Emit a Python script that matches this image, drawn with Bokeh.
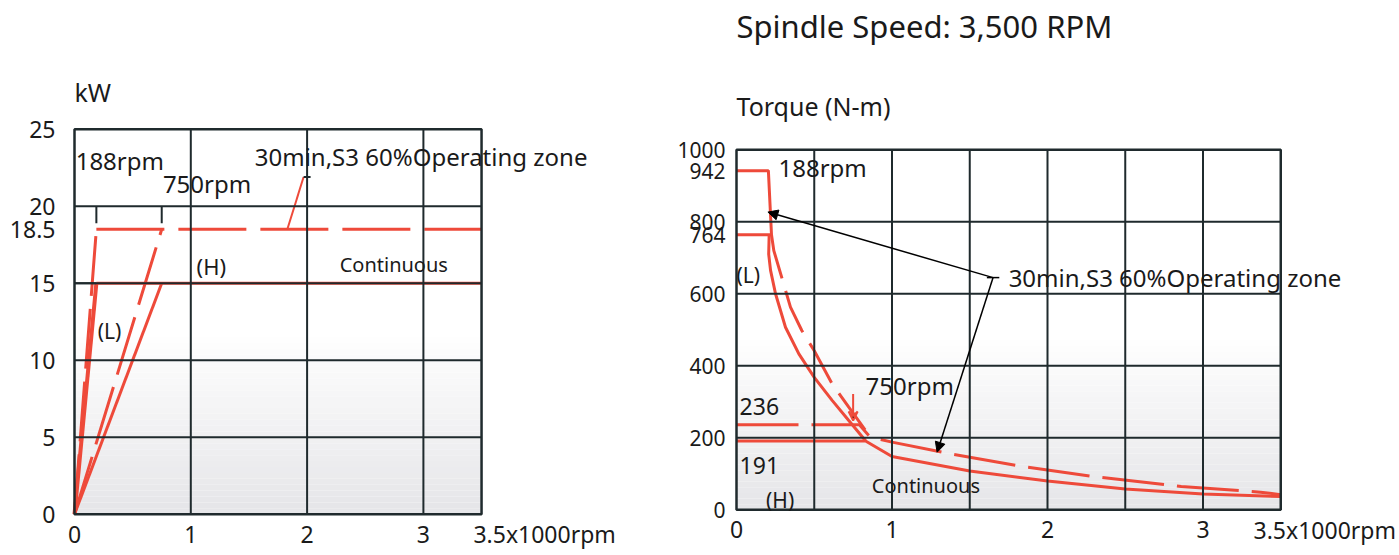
from bokeh.plotting import figure
from bokeh.layouts import row
from bokeh.models import FixedTicker, Label, Arrow, NormalHead, VeeHead, Range1d
from bokeh.core.properties import value
from bokeh.embed import file_html
from bokeh.resources import INLINE

FONT = "Noto Sans"
RED = "#ee4a3a"
GRID = "#1f2a2d"
TXT = "#1a1a1a"
FIG_H = 555

# ---------------- Data: power chart (kW vs x1000 rpm) ----------------
p_x_ticks = [0, 1, 2, 3]
p_x_labels = ["0", "1", "2", "3"]
x_max = 3.5
x_end_label = "3.5x1000rpm"
p_y_ticks = [0, 5, 10, 15, 18.5, 20, 25]
p_y_labels = ["0", "5", "10", "15", "18.5", "20", "25"]
p_y_max = 25
p_x_grid = [1, 2, 3]
p_y_grid = [5, 10, 15, 20]

speed_L = 0.188   # 188 rpm
speed_H = 0.75    # 750 rpm
kw_cont = 15.0
kw_s3 = 18.5

cont_L_x = [0, speed_L]
cont_L_y = [0, kw_cont]
cont_H_x = [0, speed_H]
cont_H_y = [0, kw_cont]
cont_flat_x = [speed_L, x_max]
cont_flat_y = [kw_cont, kw_cont]
s3_L_x = [0, speed_L]
s3_L_y = [0, kw_s3]
s3_H_x = [0, speed_H]
s3_H_y = [0, kw_s3]
s3_flat_x = [speed_L, x_max]
s3_flat_y = [kw_s3, kw_s3]

# ---------------- Data: torque chart (N-m vs x1000 rpm) ----------------
t_y_ticks = [0, 200, 400, 600, 764, 800, 942, 1000]
t_y_labels = ["0", "200", "400", "600", "764", "800", "942", "1000"]
t_y_max = 1000
t_inner_ticks = [236, 191]
t_x_grid = [0.5, 1, 1.5, 2, 2.5, 3]
t_y_grid = [200, 400, 600, 800]

t_box_x = [0, 0.205, 0.225, 0]
t_box_y = [942, 942, 764, 764]
t_cont_L_x = [0.21, 0.207, 0.219, 0.251, 0.315, 0.401, 0.50, 0.615, 0.722, 0.83]
t_cont_L_y = [764, 710, 665, 600, 507, 433, 368, 304, 248, 192]
t_cont_H_x = [0, 0.83, 1.0, 1.5, 2.0, 2.5, 3.0, 3.5]
t_cont_H_y = [191, 191, 148, 108, 80, 58, 44, 37]
t_s3_L_x = [0.225, 0.24, 0.347, 0.42, 0.50, 0.615, 0.722, 0.83]
t_s3_L_y = [764, 720, 563, 498, 442, 350, 285, 220]
t_s3_H_x = [0, 0.79, 0.86, 1.0, 1.38, 1.8, 2.32, 2.86, 3.37, 3.5]
t_s3_H_y = [236, 236, 202, 188, 155, 123, 91, 65, 49, 42]


def make_fig(width, border_left, pad_left, x_px, y_px, y_zero_px, y_std, ticks, labels, ysize):
    # frame spans the canvas right of the y axis; ranges follow the pixel scale
    frame_w = width - border_left
    x0 = -pad_left / x_px
    x1 = (frame_w - pad_left) / x_px
    top_y = y_zero_px / y_px
    bot_y = (y_zero_px - FIG_H) / y_px
    p = figure(width=width, height=FIG_H, output_backend="svg", toolbar_location=None,
               x_range=Range1d(x0, x1), y_range=Range1d(bot_y, top_y),
               x_axis_location=None, min_border_left=border_left, min_border_right=0,
               min_border_top=0, min_border_bottom=0)
    p.outline_line_color = None
    p.grid.visible = False
    ax = p.yaxis[0]
    ax.ticker = FixedTicker(ticks=ticks)
    ax.major_label_overrides = {k: v for k, v in zip(ticks, labels)}
    ax.axis_line_color = None
    ax.major_tick_line_color = None
    ax.minor_tick_line_color = None
    ax.major_tick_out = 0
    ax.major_tick_in = 0
    ax.minor_tick_out = 0
    ax.major_label_text_font = FONT
    ax.major_label_text_font_size = ysize
    ax.major_label_text_color = TXT
    ax.major_label_standoff = y_std
    return p


def gradient(p, x1, y1, n=30):
    bottoms, tops, cols = [], [], []
    for i in range(n):
        f = i / n
        bottoms.append(y1 * f)
        tops.append(y1 * (i + 1) / n)
        c = int(230 + (255 - 230) * f)
        c2 = int(233 + (255 - 233) * f)
        cols.append("#%02x%02x%02x" % (c, c, c2))
    p.quad(left=0, right=x1, bottom=bottoms, top=tops, fill_color=cols, line_color=None)


def frame_grid(p, xg, yg, xmax, ymax):
    p.segment(x0=xg, y0=[0] * len(xg), x1=xg, y1=[ymax] * len(xg),
              line_color=GRID, line_width=2)
    p.segment(x0=[0] * len(yg), y0=yg, x1=[xmax] * len(yg), y1=yg,
              line_color=GRID, line_width=2)
    p.quad(left=0, right=xmax, bottom=0, top=ymax, fill_color=None,
           line_color=GRID, line_width=2.5)


def xlabels(p, y):
    p.text(x=p_x_ticks, y=[y] * len(p_x_ticks), text=p_x_labels, text_font=value(FONT),
           text_font_size="23px", text_color=TXT, text_align="center",
           text_baseline="middle")


def lab(p, text, x, y, size="23px", align="left"):
    p.add_layout(Label(x=x, y=y, text=text, text_font=FONT, text_font_size=size,
                       text_color=TXT, text_baseline="middle", text_align=align))


# ---------------- Left figure (power) ----------------
p1 = make_fig(664, 62, 12, 116.3, 15.4, 513.7, 7, p_y_ticks, p_y_labels, "23px")
gradient(p1, x_max, 11.5)

p1.line(cont_flat_x, cont_flat_y, line_color=RED, line_width=3)
p1.line(cont_L_x, cont_L_y, line_color=RED, line_width=4)
p1.line(cont_H_x, cont_H_y, line_color=RED, line_width=3)
p1.line(s3_L_x, s3_L_y, line_color=RED, line_width=3, line_dash="60 13")
p1.line(s3_H_x, s3_H_y, line_color=RED, line_width=3, line_dash="60 13")
p1.line(s3_flat_x, s3_flat_y, line_color=RED, line_width=3, line_dash="68 14")
p1.line([1.83, 1.97], [kw_s3, 21.9], line_color=RED, line_width=2)

frame_grid(p1, p_x_grid, p_y_grid, x_max, p_y_max)
p1.line([0, speed_L], [kw_cont, kw_cont], line_color=GRID, line_width=2)
for sx in (speed_L, speed_H):
    p1.line([sx, sx], [18.9, 20], line_color=GRID, line_width=2)
p1.line([1.97, 2.03], [21.9, 21.9], line_color=GRID, line_width=2)

xlabels(p1, -1.29)
lab(p1, x_end_label, 3.43, -1.29)
lab(p1, "kW", 0.0, 27.4, "25px")
lab(p1, "188rpm", 0.01, 23.0, "24px")
lab(p1, "750rpm", 0.76, 21.5, "24px")
lab(p1, "30min,S3 60%Operating zone", 1.55, 23.2, "24px")
lab(p1, "(H)", 1.05, 16.1, "22px")
lab(p1, "Continuous", 2.28, 16.2, "20px")
lab(p1, "(L)", 0.2, 11.9, "21px")

# ---------------- Right figure (torque) ----------------
p2 = make_fig(735, 64, 8, 155.5, 0.36, 509.3, 3, t_y_ticks, t_y_labels, "21px")
gradient(p2, x_max, 470)

p2.line(t_box_x, t_box_y, line_color=RED, line_width=3)
p2.line(t_cont_L_x, t_cont_L_y, line_color=RED, line_width=3)
p2.line(t_cont_H_x, t_cont_H_y, line_color=RED, line_width=3)
p2.line(t_s3_L_x, t_s3_L_y, line_color=RED, line_width=3, line_dash="45 13")
p2.line(t_s3_H_x, t_s3_H_y, line_color=RED, line_width=3, line_dash="62 13")
p2.add_layout(Arrow(x_start=0.75, y_start=322, x_end=0.75, y_end=248,
                    line_color=RED, line_width=2,
                    end=VeeHead(size=9, line_color=RED, line_width=2)))

frame_grid(p2, t_x_grid, t_y_grid, x_max, t_y_max)

hx, hy = 1.65, 645
p2.line([1.61, 1.69], [hy, hy], line_color="black", line_width=1.5)
for ex, ey in ((0.202, 827), (1.29, 160)):
    p2.add_layout(Arrow(x_start=hx, y_start=hy, x_end=ex, y_end=ey,
                        line_color="black", line_width=1.5,
                        end=NormalHead(size=10, fill_color="black", line_color="black")))

xlabels(p2, -56)
lab(p2, x_end_label, 3.325, -57, "23px")
p2.text(x=[0.02, 0.02], y=[287, 123], text=[str(v) for v in t_inner_ticks],
        text_font=value(FONT), text_font_size="23px", text_color=TXT,
        text_align="left", text_baseline="middle")
lab(p2, "Spindle Speed: 3,500 RPM", 0.0, 1345, "31px")
lab(p2, "Torque (N-m)", 0.0, 1123, "25px")
lab(p2, "188rpm", 0.27, 952, "24px")
lab(p2, "(L)", 0.0, 651, "21px")
lab(p2, "(H)", 0.19, 26, "21px")
lab(p2, "750rpm", 0.83, 345, "24px")
lab(p2, "Continuous", 0.87, 67, "20px")
lab(p2, "30min,S3 60%Operating zone", 1.75, 645, "24px")

layout = row(p1, p2)
open("out.html", "w").write(file_html(layout, INLINE))
